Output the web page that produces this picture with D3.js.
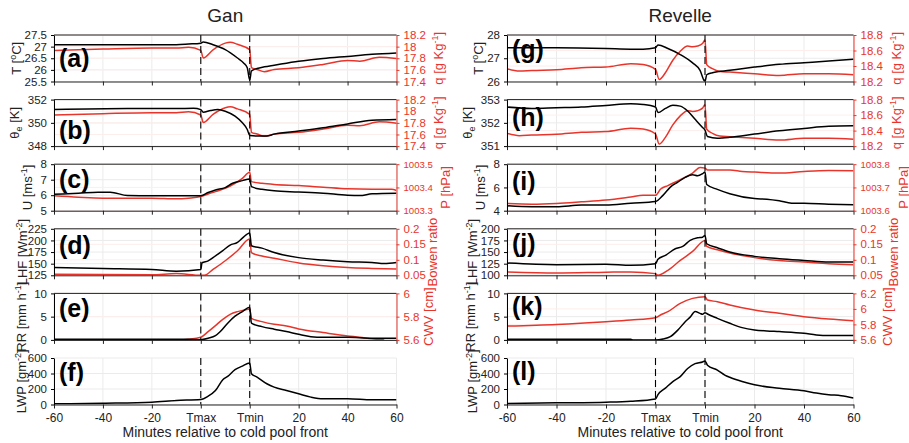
<!DOCTYPE html>
<html>
<head>
<meta charset="utf-8">
<script src="https://cdn.jsdelivr.net/npm/d3@7"></script>
<style>
  body { margin: 0; background: #fff; }
  text { font-family: "Liberation Sans", Arial, Helvetica, sans-serif; }
</style>
</head>
<body>
<svg id="fig" width="909" height="443"></svg>
<script>
//========= Data (x in composite minutes: Tmax = 0, Tmin = 20) =========//
var xTickVals = [-60, -40, -20, 0, 20, 40, 60, 80];
var xTickLabels = ["-60", "-40", "-20", "Tmax", "Tmin", "20", "40", "60"];

// Gan
var ganT = [[-60,27.08],[-40,27.08],[-20,27.08],[-10,27.08],[-5,27.11],[0,27.15],[1,27.2],[5,27.08],[10,26.87],[15,26.51],[17.5,26.3],[19,26.09],[20,25.56],[20.7,25.95],[23,26.06],[26,26.13],[30,26.2],[40,26.37],[50,26.49],[60,26.58],[70,26.67],[80,26.73]];
var ganQ = [[-60,17.935],[-40,17.958],[-20,17.975],[-10,17.975],[-5,17.99],[0,17.935],[1,17.806],[5,17.946],[10,18.06],[12,18.076],[15,18.04],[20,17.946],[20.7,17.637],[23,17.608],[26,17.569],[30,17.608],[40,17.637],[50,17.693],[60,17.76],[65,17.75],[73,17.817],[80,17.794]];
var ganThetaE = [[-60,351.14],[-30,351.23],[-10,351.23],[-3,351.26],[0,351.14],[1,350.91],[4,351.06],[7,351.14],[10,351.0],[14,350.57],[17,350.0],[19,349.43],[20,348.91],[24,348.86],[27,348.86],[30,349.03],[40,349.29],[50,349.57],[60,349.91],[70,350.23],[80,350.29]];
var ganU = [[-60,6.06],[-50,6.13],[-42,6.19],[-37,6.19],[-30,5.98],[-20,5.96],[-10,5.96],[0,5.96],[3,6.17],[6,6.34],[10,6.49],[13,6.77],[17,6.94],[20,7.04],[20.7,6.55],[25,6.38],[30,6.28],[40,6.21],[50,6.13],[60,6.0],[65,5.98],[70,6.09],[80,6.13]];
var ganP = [[-60,1003.364],[-50,1003.358],[-40,1003.354],[-20,1003.354],[-10,1003.351],[-5,1003.354],[0,1003.361],[3,1003.372],[6,1003.382],[10,1003.396],[14,1003.418],[17,1003.439],[20,1003.465],[20.7,1003.425],[25,1003.418],[30,1003.413],[40,1003.408],[50,1003.401],[60,1003.394],[70,1003.392],[78,1003.392],[80,1003.387]];
var ganLHF = [[-60,141.8],[-40,139.6],[-20,137.4],[-10,133.8],[0,137.4],[0.5,152],[3,156],[6,166.6],[9,178],[12,190],[15,195.8],[17,205],[20,216.2],[20.7,188.5],[25,183.4],[30,174],[40,163],[50,157.8],[60,154.2],[70,152.7],[75,150.5],[80,152.7]];
var ganBowen = [[-60,0.053],[-20,0.052],[-10,0.0555],[0,0.05],[1.5,0.05],[5,0.069],[10,0.097],[15,0.129],[20,0.167],[20.7,0.123],[25,0.112],[30,0.105],[40,0.09],[50,0.081],[60,0.075],[70,0.072],[80,0.07]];
var ganRR = [[-60,0.15],[-10,0.15],[-5,0.15],[0,0.05],[3,0.36],[6,0.9],[8,1.8],[11,3.6],[14,5.1],[17,6.1],[20,7.0],[20.7,3.6],[25,2.86],[30,2.3],[35,1.8],[40,1.2],[45,0.7],[50,0.57],[60,0.57],[70,0.36],[80,0.36]];
var ganCWV = [[-10,5.6],[-5,5.606],[0,5.623],[3,5.671],[6,5.723],[9,5.777],[12,5.82],[15,5.843],[18,5.857],[20,5.866],[20.7,5.786],[25,5.757],[30,5.734],[35,5.72],[40,5.694],[50,5.663],[60,5.634],[65,5.623],[70,5.609],[75,5.6]];
var ganLWP = [[-60,8.6],[-40,17],[-20,30],[-10,52],[0,65],[3,108],[6,181],[9,320],[11,363],[14,449],[17,496],[20,535],[20.7,397],[23,354],[27,268],[30,224],[35,181],[40,138],[45,95],[50,73],[60,73],[70,60],[80,60]];

// Revelle
var revT = [[-60,27.45],[-40,27.45],[-20,27.42],[-10,27.39],[-5,27.39],[0,27.45],[1,27.57],[5,27.42],[10,27.16],[15,26.8],[18,26.48],[20,26.0],[20.7,26.29],[23,26.38],[30,26.48],[40,26.62],[50,26.74],[60,26.81],[70,26.88],[80,26.96]];
var revQ = [[-60,18.365],[-55,18.335],[-50,18.343],[-40,18.352],[-30,18.378],[-20,18.387],[-10,18.43],[-5,18.42],[0,18.356],[1.5,18.226],[4,18.313],[7,18.474],[10,18.59],[13,18.657],[15,18.648],[17,18.657],[19,18.69],[20,18.735],[20.7,18.417],[23,18.365],[26,18.33],[30,18.322],[40,18.3],[50,18.278],[60,18.3],[70,18.3],[80,18.287]];
var revThetaE = [[-60,352.68],[-50,352.62],[-40,352.65],[-30,352.68],[-20,352.75],[-10,352.82],[-5,352.79],[0,352.68],[1,352.44],[4,352.62],[7,352.76],[10,352.72],[13,352.51],[16,352.15],[19,351.8],[20,351.69],[21,351.41],[25,351.34],[27,351.35],[30,351.38],[40,351.52],[50,351.66],[60,351.76],[70,351.85],[80,351.87]];
var revU = [[-60,4.42],[-50,4.34],[-40,4.34],[-30,4.48],[-20,4.48],[-10,4.65],[0,4.79],[3,5.32],[6,6.03],[9,6.45],[12,6.87],[15,7.1],[17,7.01],[19,7.18],[20,7.32],[20.7,6.25],[25,5.83],[30,5.46],[40,5.04],[45,4.99],[50,4.85],[55,4.65],[60,4.65],[70,4.56],[80,4.51]];
var revP = [[-60,1003.631],[-50,1003.628],[-40,1003.631],[-30,1003.638],[-20,1003.646],[-10,1003.659],[-5,1003.666],[0,1003.666],[2,1003.692],[5,1003.708],[10,1003.734],[15,1003.762],[18,1003.786],[20,1003.783],[21,1003.775],[30,1003.775],[35,1003.769],[40,1003.766],[50,1003.762],[60,1003.769],[70,1003.773],[80,1003.772]];
var revLHF = [[-60,126.4],[-40,122.9],[-20,123.6],[-10,121.4],[0,125],[1,134.3],[4,142.9],[8,157],[11,162],[14,175],[17,180.7],[19,182],[20,185.7],[20.7,167.9],[25,159.3],[30,150],[40,140.7],[50,135.7],[60,132],[70,128.6],[80,128.6]];
var revBowen = [[-60,0.0607],[-40,0.0575],[-20,0.06],[-10,0.061],[0,0.0554],[1,0.05],[5,0.066],[10,0.098],[15,0.127],[20,0.1625],[20.7,0.143],[25,0.1325],[30,0.122],[40,0.107],[50,0.098],[60,0.093],[70,0.0875],[80,0.084]];
var revRR = [[-60,0.14],[-10,0.14],[-9,0],[0,0],[3,0.2],[6,0.7],[9,2.1],[12,3.9],[14,4.9],[16,6.1],[18,5.7],[19,5.5],[20,5.86],[21,5.57],[25,4.64],[30,3.57],[35,2.64],[40,2.14],[45,1.93],[50,1.79],[60,1.43],[65,1.07],[70,0.93],[80,0.93]];
var revCWV = [[-60,5.779],[-40,5.8],[-20,5.835],[-10,5.857],[0,5.887],[2,5.921],[5,5.964],[10,6.071],[15,6.136],[20,6.157],[21,6.114],[25,6.093],[30,6.05],[40,5.985],[50,5.943],[60,5.9],[70,5.87],[80,5.848]];
var revLWP = [[-60,12.7],[-40,21],[-20,30],[-10,42],[0,72],[1,127],[4,211],[7,296],[10,359],[13,465],[16,528],[19,549],[20,562],[21,507],[25,444],[28,380],[30,351],[35,296],[40,254],[50,211],[60,177],[65,148],[70,127],[75,114],[80,85]];

//========= Labels =========//
var lblT = [["T ["], ["o", "sup"], ["C]"]];
var lblTh = [["θ"], ["e", "sub"], [" [K]"]];
var lblU = [["U [ms"], ["-1", "sup"], ["]"]];
var lblLHF = [["LHF [Wm"], ["-2", "sup"], ["]"]];
var lblRR = [["RR [mm h"], ["-1", "sup"], ["]"]];
var lblLWP = [["LWP [gm"], ["-2", "sup"], ["]"]];
var lblQ = [["q [g Kg"], ["-1", "sup"], ["]"]];
var lblP = [["P [hPa]"]];
var lblBowen = [["Bowen ratio"]];
var lblCWV = [["CWV [cm]"]];

//========= Layout =========//
var red = "#e8352b";
var cols = [
  { x0: 54, x1: 396.5, title: "Gan" },
  { x0: 507, x1: 853.5, title: "Revelle" },
];
var panelH = 46.5;
function rowTop(r) { return 35 + r * 64.6; }

var panels = [
  { col: 0, row: 0, letter: "(a)", ly: 24.5, lx: 16, rx: 438,
    left: { data: ganT, domain: [25.5, 27.5], ticks: [25.5, 26, 26.5, 27, 27.5], label: lblT },
    right: { data: ganQ, domain: [17.4, 18.2], ticks: [17.4, 17.6, 17.8, 18, 18.2], label: lblQ } },
  { col: 0, row: 1, letter: "(b)", ly: 32, lx: 14, rx: 438,
    left: { data: ganThetaE, domain: [348, 352], ticks: [348, 350, 352], label: lblTh },
    right: { data: ganQ, domain: [17.4, 18.2], ticks: [17.4, 17.6, 17.8, 18, 18.2], label: lblQ } },
  { col: 0, row: 2, letter: "(c)", ly: 17, lx: 27, rx: 445,
    left: { data: ganU, domain: [5, 8], ticks: [5, 6, 7, 8], label: lblU },
    right: { data: ganP, domain: [1003.3, 1003.5], ticks: [1003.3, 1003.4, 1003.5], label: lblP, small: true } },
  { col: 0, row: 3, letter: "(d)", ly: 18.5, lx: 22, rx: 432,
    left: { data: ganLHF, domain: [125, 225], ticks: [125, 150, 175, 200, 225], label: lblLHF },
    right: { data: ganBowen, domain: [0.05, 0.2], ticks: [0.05, 0.1, 0.15, 0.2], label: lblBowen } },
  { col: 0, row: 4, letter: "(e)", ly: 17, lx: 21, rx: 428,
    left: { data: ganRR, domain: [0, 10], ticks: [0, 5, 10], label: lblRR },
    right: { data: ganCWV, domain: [5.6, 6], ticks: [5.6, 5.8, 6], label: lblCWV } },
  { col: 0, row: 5, letter: "(f)", ly: 16, lx: 21,
    left: { data: ganLWP, domain: [0, 600], ticks: [0, 200, 400, 600], label: lblLWP } },

  { col: 1, row: 0, letter: "(g)", ly: 16, lx: 478, rx: 896,
    left: { data: revT, domain: [26, 28], ticks: [26, 27, 28], label: lblT },
    right: { data: revQ, domain: [18.2, 18.8], ticks: [18.2, 18.4, 18.6, 18.8], label: lblQ } },
  { col: 1, row: 1, letter: "(h)", ly: 19, lx: 467, rx: 896,
    left: { data: revThetaE, domain: [351, 353], ticks: [351, 352, 353], label: lblTh },
    right: { data: revQ, domain: [18.2, 18.8], ticks: [18.2, 18.4, 18.6, 18.8], label: lblQ } },
  { col: 1, row: 2, letter: "(i)", ly: 19, lx: 480, rx: 903,
    left: { data: revU, domain: [4, 8], ticks: [4, 6, 8], label: lblU },
    right: { data: revP, domain: [1003.6, 1003.8], ticks: [1003.6, 1003.7, 1003.8], label: lblP, small: true } },
  { col: 1, row: 3, letter: "(j)", ly: 16, lx: 472, rx: 893,
    left: { data: revLHF, domain: [100, 200], ticks: [100, 125, 150, 175, 200], label: lblLHF },
    right: { data: revBowen, domain: [0.05, 0.2], ticks: [0.05, 0.1, 0.15, 0.2], label: lblBowen } },
  { col: 1, row: 4, letter: "(k)", ly: 15, lx: 470, rx: 887,
    left: { data: revRR, domain: [0, 10], ticks: [0, 5, 10], label: lblRR },
    right: { data: revCWV, domain: [5.6, 6.2], ticks: [5.6, 5.8, 6, 6.2], label: lblCWV } },
  { col: 1, row: 5, letter: "(l)", ly: 15, lx: 472,
    left: { data: revLWP, domain: [0, 600], ticks: [0, 200, 400, 600], label: lblLWP } },
];

var svg = d3.select("#fig");
var defs = svg.append("defs");
var fmt = function (d) { return String(+d.toFixed(3)); };

// rotated label with super/subscripts
function addLabel(x, y, parts, color) {
  var t = svg.append("text")
    .attr("transform", `translate(${x},${y}) rotate(-90)`)
    .attr("text-anchor", "middle")
    .attr("fill", color)
    .style("font-size", "13px");
  var shift = 0;
  parts.forEach(function (p) {
    var target = p[1] === "sup" ? -5 : p[1] === "sub" ? 3 : 0;
    t.append("tspan")
      .attr("dy", target - shift)
      .style("font-size", p[1] ? "9px" : "13px")
      .text(p[0]);
    shift = target;
  });
}

// titles
cols.forEach(function (c) {
  svg.append("text")
    .attr("x", (c.x0 + c.x1) / 2).attr("y", 22)
    .attr("text-anchor", "middle")
    .style("font-size", "19px").attr("fill", "#222")
    .text(c.title);
  svg.append("text")
    .attr("x", (c.x0 + c.x1) / 2).attr("y", 437)
    .attr("text-anchor", "middle")
    .style("font-size", "14px").attr("fill", "#222")
    .text("Minutes relative to cold pool front");
});

panels.forEach(function (p, i) {
  var c = cols[p.col];
  var top = rowTop(p.row), bot = top + panelH;
  var x = d3.scaleLinear().domain([-60, 80]).range([c.x0, c.x1]);
  var yL = d3.scaleLinear().domain(p.left.domain).range([bot, top]);
  var yR = p.right ? d3.scaleLinear().domain(p.right.domain).range([bot, top]) : null;

  var g = svg.append("g");

  // grid
  g.selectAll(".gx").data(xTickVals).enter().append("line")
    .attr("x1", (d) => x(d)).attr("x2", (d) => x(d))
    .attr("y1", top).attr("y2", bot)
    .attr("stroke", "#ebebeb");
  g.selectAll(".gy").data(p.left.ticks).enter().append("line")
    .attr("x1", c.x0).attr("x2", c.x1)
    .attr("y1", (d) => yL(d)).attr("y2", (d) => yL(d))
    .attr("stroke", "#ebebeb");
  if (yR) {
    g.selectAll(".gr").data(p.right.ticks).enter().append("line")
      .attr("x1", c.x0).attr("x2", c.x1)
      .attr("y1", (d) => yR(d)).attr("y2", (d) => yR(d))
      .attr("stroke", "#fdeeec");
  }

  // clip
  var cid = "clip" + i;
  defs.append("clipPath").attr("id", cid).append("rect")
    .attr("x", c.x0).attr("y", top).attr("width", c.x1 - c.x0).attr("height", panelH);

  var lineL = d3.line().x((d) => x(d[0])).y((d) => yL(d[1])).curve(d3.curveMonotoneX);
  if (yR) {
    var lineR = d3.line().x((d) => x(d[0])).y((d) => yR(d[1])).curve(d3.curveMonotoneX);
    g.append("path").datum(p.right.data)
      .attr("clip-path", `url(#${cid})`)
      .attr("fill", "none").attr("stroke", red).attr("stroke-width", 1.5)
      .attr("d", lineR);
  }
  g.append("path").datum(p.left.data)
    .attr("clip-path", `url(#${cid})`)
    .attr("fill", "none").attr("stroke", "#000").attr("stroke-width", 1.5)
    .attr("d", lineL);

  // Tmax / Tmin dashed lines
  g.selectAll(".dl").data([0, 20]).enter().append("line")
    .attr("x1", (d) => x(d)).attr("x2", (d) => x(d))
    .attr("y1", top).attr("y2", bot)
    .attr("stroke", "#000").attr("stroke-width", 1.1)
    .attr("stroke-dasharray", "7,4");

  // box top
  if (yR) {
    g.append("line").attr("x1", c.x0).attr("x2", c.x1).attr("y1", top).attr("y2", top)
      .attr("stroke", "#222");
  }

  // bottom axis
  var last = p.row === 5;
  var xAxis = g.append("g")
    .attr("transform", `translate(0, ${bot})`)
    .call(d3.axisBottom(x).tickValues(xTickVals).tickSize(4).tickSizeOuter(0)
      .tickFormat((d, k) => (last ? xTickLabels[k] : "")));
  xAxis.selectAll("text").style("font-size", "12px").attr("fill", "#222").attr("dy", "0.9em");
  xAxis.selectAll("path, line").attr("stroke", "#222");

  // left axis
  var lAxis = g.append("g")
    .attr("transform", `translate(${c.x0}, 0)`)
    .call(d3.axisLeft(yL).tickValues(p.left.ticks).tickSize(3).tickSizeOuter(0).tickPadding(4).tickFormat(fmt));
  lAxis.selectAll("text").style("font-size", "11.5px").attr("fill", "#222");
  lAxis.selectAll("path, line").attr("stroke", "#000");

  // right axis
  if (yR) {
    var rAxis = g.append("g")
      .attr("transform", `translate(${c.x1}, 0)`)
      .call(d3.axisRight(yR).tickValues(p.right.ticks).tickSize(3).tickSizeOuter(0).tickPadding(4).tickFormat(fmt));
    rAxis.selectAll("text").style("font-size", p.right.small ? "9.6px" : "11.5px").attr("fill", red);
    rAxis.selectAll("path, line").attr("stroke", red);
  }

  // panel letter
  g.append("text")
    .attr("x", c.x0 + 5).attr("y", top + p.ly + 7)
    .style("font-size", "25px").style("font-weight", "bold").attr("fill", "#000")
    .text(p.letter);

  // axis labels
  addLabel(p.lx + 4.5, (top + bot) / 2, p.left.label, "#222");
  if (yR) addLabel(p.rx + 4.5, (top + bot) / 2, p.right.label, red);
});
</script>
</body>
</html>
